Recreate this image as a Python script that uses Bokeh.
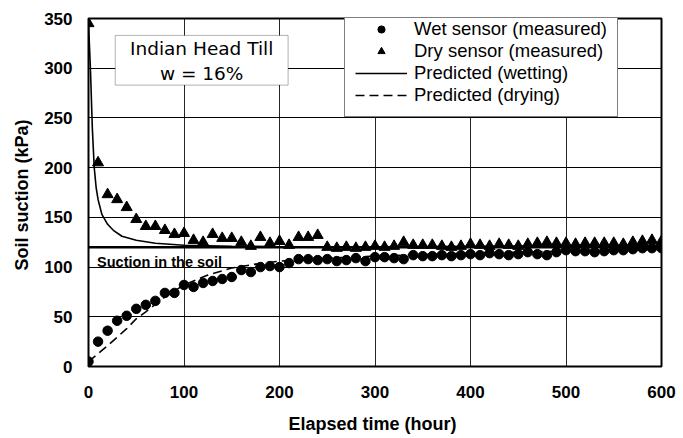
from bokeh.plotting import figure
from bokeh.models import Legend, LegendItem, Label, BoxAnnotation, Span, FixedTicker
from bokeh.embed import file_html
from bokeh.resources import INLINE

# ---- data ----
hours = list(range(0, 601, 10))
wet_sensor = [5, 25, 36, 46, 51, 58, 62, 66, 74, 74,
              82, 80, 84, 86, 88, 90, 97, 95, 100, 101,
              100, 104, 108, 108, 107, 108, 106, 107, 109, 106,
              110, 110, 109, 108, 112, 111, 111, 112, 111, 112,
              113, 112, 114, 113, 112, 113, 115, 113, 112, 115,
              117, 116, 116, 115, 116, 117, 117, 118, 119, 119, 119]
dry_sensor = [345, 205, 173, 168, 160, 148, 141, 141, 137, 133,
              134, 127, 125, 133, 129, 129, 125, 121, 130, 124,
              126, 122, 130, 130, 132, 120, 119, 120, 119, 120,
              121, 120, 121, 125, 122, 122, 122, 121, 120, 121,
              123, 122, 121, 123, 122, 121, 123, 124, 125, 124,
              124, 123, 124, 124, 124, 124, 123, 125, 126, 127, 126]
pred_wet_t = [0, 2, 4, 6, 8, 10, 14, 20, 26, 35, 50, 70, 100, 150, 200, 300, 400, 500, 600]
pred_wet = [345, 300, 240, 200, 180, 168, 153, 143, 137, 131, 127, 124, 122, 121, 120.5, 120.5, 121, 121.5, 122]
pred_dry_t = [0, 20, 40, 50, 60, 80, 100, 125, 150, 175, 200, 250, 300, 400, 500, 600]
pred_dry = [5, 21, 38, 48, 55, 70, 82, 92, 99, 103, 106, 109, 111, 114, 116, 118]
soil_suction = 120
x_ticks = [0, 100, 200, 300, 400, 500, 600]
y_ticks = [0, 50, 100, 150, 200, 250, 300, 350]

FONT = "Liberation Sans"

p = figure(width=683, height=438, x_range=(0, 600), y_range=(0, 350),
           output_backend="svg", toolbar_location=None,
           min_border_left=88, min_border_right=22, min_border_top=18, min_border_bottom=72)
p.background_fill_color = "white"
p.border_fill_color = "white"
p.outline_line_color = "black"
p.outline_line_width = 2

p.xaxis.ticker = FixedTicker(ticks=x_ticks)
p.yaxis.ticker = FixedTicker(ticks=y_ticks)
for ax in (p.xaxis[0], p.yaxis[0]):
    ax.major_tick_in = 0
    ax.major_tick_out = 0
    ax.minor_tick_in = 0
    ax.minor_tick_out = 0
    ax.axis_line_color = None
    ax.major_label_text_font = FONT
    ax.major_label_text_font_size = "17px"
    ax.major_label_text_font_style = "bold"
    ax.major_label_text_color = "black"
    ax.axis_label_text_font = FONT
    ax.axis_label_text_font_size = "18px"
    ax.axis_label_text_font_style = "bold"
    ax.axis_label_text_color = "black"
p.xaxis.axis_label = "Elapsed time  (hour)"
p.yaxis.axis_label = "Soil suction  (kPa)"
p.xaxis.major_label_standoff = 19
p.xaxis.axis_label_standoff = 13
p.yaxis.major_label_standoff = 16
p.yaxis.axis_label_standoff = 9

p.xgrid.grid_line_color = "black"
p.xgrid.grid_line_width = 1
p.xgrid.grid_line_alpha = 0.85
p.ygrid.grid_line_color = "black"
p.ygrid.grid_line_width = 1

# suction in the soil
p.add_layout(Span(location=soil_suction, dimension="width", line_color="black", line_width=2.5))

r_wet_line = p.line(pred_wet_t, pred_wet, line_color="black", line_width=1.6)
r_dry_line = p.line(pred_dry_t, pred_dry, line_color="black", line_width=1.6, line_dash="9 5")
r_dry = p.scatter(hours, dry_sensor, marker="triangle", size=11, fill_color="black", line_color="black")
r_wet = p.scatter(hours, wet_sensor, marker="circle", size=9.5, fill_color="black", line_color="black")

p.add_layout(Label(x=9, y=105, text="Suction in the soil", text_font=FONT, text_font_size="14.5px",
                   text_font_style="bold", text_baseline="middle", text_color="black"))

# annotation box
p.add_layout(BoxAnnotation(left=28, right=209, top=333, bottom=283, fill_color="white", fill_alpha=1,
                           line_color="black", line_width=1))
p.add_layout(Label(x=118.5, y=320, text="Indian Head Till", text_font="DejaVu Sans", text_font_size="18.5px",
                   text_align="center", text_baseline="middle", text_color="black"))
p.add_layout(Label(x=118.5, y=295, text="w = 16%", text_font="DejaVu Sans", text_font_size="18.5px",
                   text_align="center", text_baseline="middle", text_color="black"))

legend = Legend(items=[
    LegendItem(label="Wet sensor (measured)", renderers=[r_wet]),
    LegendItem(label="Dry sensor (measured)", renderers=[r_dry]),
    LegendItem(label="Predicted (wetting)", renderers=[r_wet_line]),
    LegendItem(label="Predicted (drying)", renderers=[r_dry_line]),
], location=(256, 249))
legend.glyph_width = 52
legend.glyph_height = 18
legend.label_height = 18
legend.spacing = 0
legend.padding = 10
legend.margin = 0
legend.label_standoff = 7
legend.label_text_font = FONT
legend.label_text_font_size = "18.5px"
legend.label_text_color = "black"
legend.border_line_color = "black"
legend.border_line_width = 1
legend.background_fill_alpha = 1
p.add_layout(legend)

open("out.html", "w").write(file_html(p, INLINE))
